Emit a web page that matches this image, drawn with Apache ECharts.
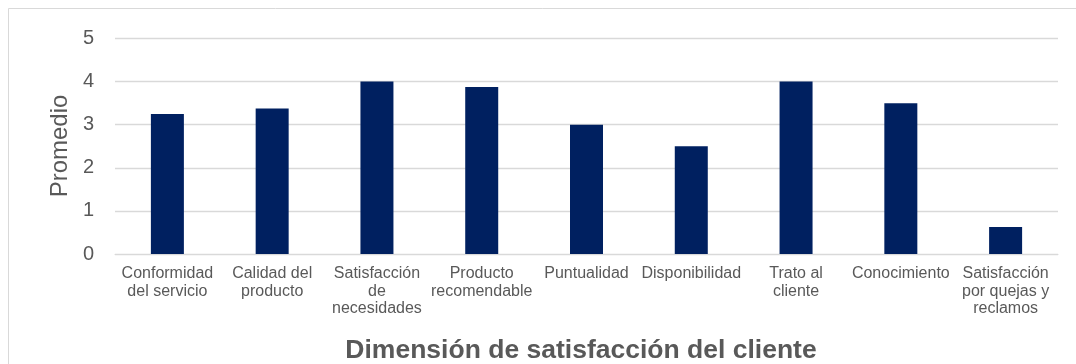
<!DOCTYPE html>
<html>
<head>
<meta charset="utf-8">
<style>
  html, body { margin: 0; padding: 0; background: #ffffff; }
  #chart { width: 1076px; height: 364px; }
</style>
<script src="https://cdn.jsdelivr.net/npm/echarts@6/dist/echarts.min.js"></script>
</head>
<body>
<div id="chart"></div>
<script>
// Dimensions of customer satisfaction and their average score
const categories = [
  'Conformidad\ndel servicio',
  'Calidad del\nproducto',
  'Satisfacción\nde\nnecesidades',
  'Producto\nrecomendable',
  'Puntualidad',
  'Disponibilidad',
  'Trato al\ncliente',
  'Conocimiento',
  'Satisfacción\npor quejas y\nreclamos'
];
const promedio = [3.25, 3.375, 4, 3.875, 3, 2.5, 4, 3.5, 0.625];
const yTicks = { min: 0, max: 5, interval: 1 };
const yTitle = 'Promedio';
const xTitle = 'Dimensión de satisfacción del cliente';

const textColor = '#595959';
const gridColor = '#d9d9d9';
const fontFamily = '"Liberation Sans", Arial, sans-serif';

const chart = echarts.init(document.getElementById('chart'), null, { renderer: 'canvas' });

chart.setOption({
  animation: false,
  backgroundColor: '#ffffff',
  textStyle: { fontFamily: fontFamily },
  grid: { left: 115, right: 18, top: 38.5, bottom: 110, containLabel: false },
  xAxis: {
    type: 'category',
    data: categories,
    axisLine: { show: true, lineStyle: { color: gridColor, width: 1 } },
    axisTick: { show: false },
    axisLabel: {
      interval: 0,
      color: textColor,
      fontSize: 16,
      lineHeight: 17.5,
      margin: 11,
      fontFamily: fontFamily
    }
  },
  yAxis: {
    type: 'value',
    min: yTicks.min,
    max: yTicks.max,
    interval: yTicks.interval,
    axisLine: { show: false },
    axisTick: { show: false },
    splitLine: { show: true, lineStyle: { color: gridColor, width: 1.3 } },
    axisLabel: {
      color: textColor,
      fontSize: 20,
      margin: 21,
      fontFamily: fontFamily
    }
  },
  series: [{
    type: 'bar',
    data: promedio,
    barWidth: 33,
    itemStyle: { color: '#002060' }
  }],
  graphic: [
    {
      type: 'rect',
      silent: true,
      shape: { x: 8.5, y: 8.5, width: 1200, height: 500 },
      style: { fill: 'none', stroke: gridColor, lineWidth: 1 }
    },
    {
      type: 'text',
      x: 60,
      y: 146,
      rotation: Math.PI / 2,
      style: {
        text: yTitle,
        x: 0,
        y: 0,
        align: 'center',
        verticalAlign: 'middle',
        fill: textColor,
        fontSize: 24,
        fontFamily: fontFamily
      }
    },
    {
      type: 'text',
      x: 581,
      y: 351,
      style: {
        text: xTitle,
        x: 0,
        y: 0,
        align: 'center',
        verticalAlign: 'middle',
        fill: textColor,
        fontSize: 26.5,
        fontWeight: 'bold',
        fontFamily: fontFamily
      }
    }
  ]
});
</script>
</body>
</html>
